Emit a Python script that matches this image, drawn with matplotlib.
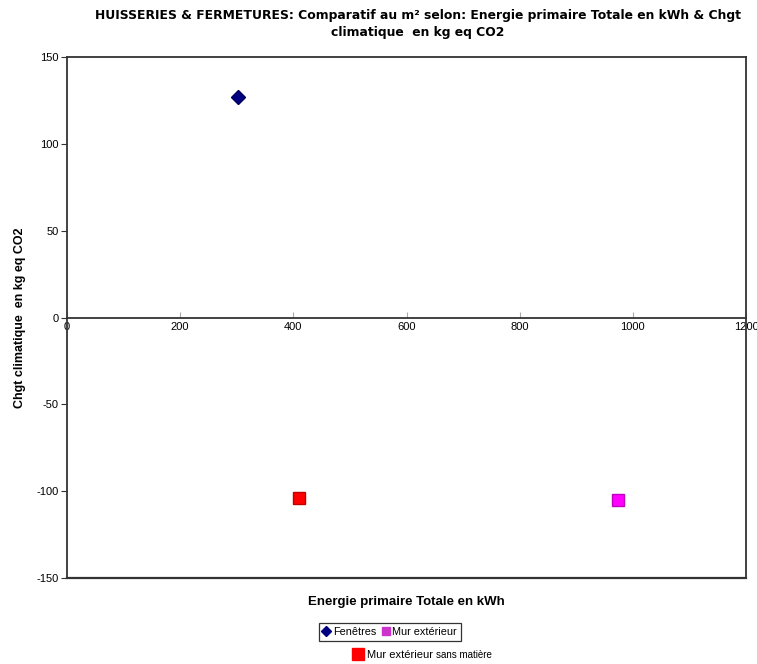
import matplotlib
matplotlib.use("Agg")
import matplotlib.pyplot as plt
from matplotlib.lines import Line2D

plt.rcParams['font.family'] = ['Liberation Sans', 'DejaVu Sans']

# Energie primaire totale (kWh) et changement climatique (kg eq CO2) par m²
series_names = ["Fenêtres", "Mur extérieur", "Mur extérieur"]
energie_kwh = [303, 973, 410]
chgt_co2 = [127, -105, -104]

x_ticks = [0, 200, 400, 600, 800, 1000, 1200]
y_ticks = [-150, -100, -50, 0, 50, 100, 150]

title = ("HUISSERIES & FERMETURES: Comparatif au m² selon: Energie primaire Totale en kWh & Chgt\n"
         "climatique  en kg eq CO2")

fig = plt.figure(figsize=(7.57, 6.64), dpi=100)
ax = fig.add_axes([67 / 757, 1 - 578 / 664, (746 - 67) / 757, (578 - 57) / 664])

ax.set_xlim(0, 1200)
ax.set_ylim(-150, 150)

# Fenêtres: navy diamond
ax.plot(energie_kwh[0], chgt_co2[0], linestyle="none", marker="D", markersize=7,
        color="#000080", markeredgecolor="#000060")
# Mur extérieur: magenta square
ax.plot(energie_kwh[1], chgt_co2[1], linestyle="none", marker="s", markersize=9,
        color="#FF00FF", markeredgecolor="#C000C0")
# Mur extérieur sans matière: red square
ax.plot(energie_kwh[2], chgt_co2[2], linestyle="none", marker="s", markersize=9,
        color="#FF0000", markeredgecolor="#C00000")

# Box frame with the category axis crossing at zero
frame_color = "#333333"
for side in ("top", "right", "left"):
    ax.spines[side].set_color(frame_color)
    ax.spines[side].set_linewidth(1.3)
ax.spines["bottom"].set_position(("data", 0))
ax.spines["bottom"].set_color(frame_color)
ax.spines["bottom"].set_linewidth(1.3)
ax.axhline(-150, color=frame_color, linewidth=1.6, clip_on=False)

ax.set_xticks(x_ticks)
ax.set_xticklabels([str(v) for v in x_ticks], fontsize=8)
ax.set_yticks(y_ticks)
ax.set_yticklabels([str(v) for v in y_ticks], fontsize=8)
ax.tick_params(axis="x", direction="in", length=4, color="#aaaaaa", pad=3)
ax.tick_params(axis="y", direction="out", length=4, color=frame_color, pad=2)

ax.set_xlabel("Energie primaire Totale en kWh", fontsize=9.5, fontweight="bold")
ax.xaxis.set_label_coords(0.5, -0.034)
ax.set_ylabel("Chgt climatique  en kg eq CO2", fontsize=9, fontweight="bold")
ax.yaxis.set_label_coords(-0.06, 0.5)

fig.text(418 / 757, 1 - 24 / 664, title, ha="center", va="center", fontsize=8.9,
         fontweight="bold", linespacing=1.4, family=["DejaVu Sans"])

# Legend: two entries boxed, the third entry below it
h1 = Line2D([], [], linestyle="none", marker="D", markersize=5, color="#000080")
h2 = Line2D([], [], linestyle="none", marker="s", markersize=6, color="#CC33CC")
h3 = Line2D([], [], linestyle="none", marker="s", markersize=8, color="#FF0000")
leg1 = fig.legend([h1, h2], series_names[:2], loc="center",
                  bbox_to_anchor=(390 / 757, 1 - 632 / 664), ncol=2, fontsize=7.8,
                  frameon=True, fancybox=False, edgecolor="black",
                  handlelength=0.6, handletextpad=0.3, columnspacing=0.6,
                  borderpad=0.35)
leg1.get_frame().set_linewidth(0.9)
leg2 = fig.legend([h3], [series_names[2]], loc="center left",
                  bbox_to_anchor=(348 / 757, 1 - 655 / 664), fontsize=8,
                  frameon=False, handlelength=0.8, handletextpad=0.4, borderpad=0.0)

fig.canvas.draw()
txt = leg2.get_texts()[0]
bb = txt.get_window_extent()
fig.text((bb.x1 + 3) / fig.bbox.width, (bb.y0 + 0.5) / fig.bbox.height, "sans matière",
         fontsize=7, ha="left", va="bottom")

fig.savefig("out.png", dpi=100, facecolor="white")
